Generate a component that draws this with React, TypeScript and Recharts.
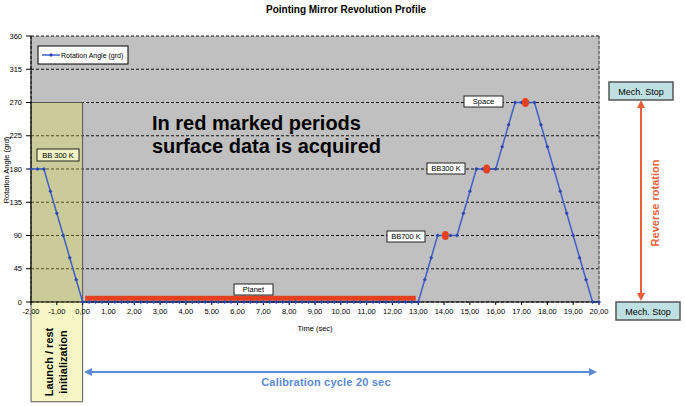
import React from "react";
import {
  ComposedChart,
  Line,
  Scatter,
  XAxis,
  YAxis,
  CartesianGrid,
  ReferenceArea,
  ReferenceLine,
} from "recharts";

// profile samples, every 0.25 s
const timeSec = [
  -2, -1.75, -1.5, -1.25, -1, -0.75, -0.5, -0.25, 0,
  0.25, 0.5, 0.75, 1, 1.25, 1.5, 1.75, 2, 2.25, 2.5, 2.75, 3,
  3.25, 3.5, 3.75, 4, 4.25, 4.5, 4.75, 5, 5.25, 5.5, 5.75, 6,
  6.25, 6.5, 6.75, 7, 7.25, 7.5, 7.75, 8, 8.25, 8.5, 8.75, 9,
  9.25, 9.5, 9.75, 10, 10.25, 10.5, 10.75, 11, 11.25, 11.5, 11.75, 12,
  12.25, 12.5, 12.75, 13,
  13.25, 13.5, 13.75, 14, 14.25, 14.5, 14.75, 15, 15.25, 15.5, 15.75, 16,
  16.25, 16.5, 16.75, 17, 17.25, 17.5, 17.75, 18, 18.25, 18.5, 18.75, 19,
  19.25, 19.5, 19.75, 20,
];
const angleGrd = [
  180, 180, 180, 150, 120, 90, 60, 30, 0,
  0, 0, 0, 0, 0, 0, 0, 0, 0, 0, 0, 0,
  0, 0, 0, 0, 0, 0, 0, 0, 0, 0, 0, 0,
  0, 0, 0, 0, 0, 0, 0, 0, 0, 0, 0, 0,
  0, 0, 0, 0, 0, 0, 0, 0, 0, 0, 0, 0,
  0, 0, 0, 0,
  30, 60, 90, 90, 90, 90, 120, 150, 180, 180, 180, 180,
  210, 240, 270, 270, 270, 270, 240, 210, 180, 150, 120, 90,
  60, 30, 0, 0,
];

// red marked acquisition periods
const planetTimes = [0.1, 12.9];
const planetAngle = [5, 5];
const dotTimes = [14.05, 15.65, 17.15];
const dotAngles = [90, 180, 270];

const xTicks = [-2, -1, 0, 1, 2, 3, 4, 5, 6, 7, 8, 9, 10, 11, 12, 13, 14, 15, 16, 17, 18, 19, 20];
const gridTimes = [
  -2, -1.5, -1, -0.5, 0, 0.5, 1, 1.5, 2, 2.5, 3, 3.5, 4, 4.5, 5, 5.5, 6, 6.5, 7, 7.5, 8, 8.5,
  9, 9.5, 10, 10.5, 11, 11.5, 12, 12.5, 13, 13.5, 14, 14.5, 15, 15.5, 16, 16.5, 17, 17.5, 18,
  18.5, 19, 19.5, 20,
];
const yTicks = [0, 45, 90, 135, 180, 225, 270, 315, 360];

const profile = timeSec.map((t, i) => ({ t, v: angleGrd[i] }));
const planetBand = planetTimes.map((t, i) => ({ t, v: planetAngle[i] }));
const acqDots = dotTimes.map((t, i) => ({ t, v: dotAngles[i] }));

const FONT = "'Liberation Sans', Arial, sans-serif";
const BLUE = "#3f5fc8";
const RED = "#e5401f";
const ORANGE = "#e8603a";
const SKY = "#5a8ad8";

const Diamond = (props: any) => {
  const { cx, cy } = props;
  if (cx == null || cy == null) return null;
  return <polygon points={`${cx},${cy - 2} ${cx + 2},${cy} ${cx},${cy + 2} ${cx - 2},${cy}`} fill="#2a48b0" />;
};

const RedDot = (props: any) => <ellipse cx={props.cx} cy={props.cy} rx={3.5} ry={4.5} fill={RED} />;

const LabelBox = ({ x, y, w, h, text, fill = "#fff" }: any) => (
  <g>
    <rect x={x} y={y} width={w} height={h} fill={fill} stroke="#222" strokeWidth={1} />
    <text x={x + w / 2} y={y + h / 2 + 2.7} textAnchor="middle" fontSize={7.5}>
      {text}
    </text>
  </g>
);

const App: React.FC = () => {
  return (
    <div style={{ position: "absolute", left: 0, top: 0, width: 685, height: 406, background: "#fff", fontFamily: FONT }}>
      <ComposedChart width={685} height={406} margin={{ top: 36, right: 86, bottom: 74, left: 11 }}>
        <XAxis xAxisId="grid" type="number" domain={[-2, 20]} ticks={gridTimes} hide />
        <CartesianGrid
          xAxisId="grid"
          fill="#c0c0c0"
          fillOpacity={1}
          stroke="#111"
          strokeDasharray="3 2"
        />
        <XAxis
          dataKey="t"
          type="number"
          domain={[-2, 20]}
          ticks={xTicks}
          tickFormatter={(v: number) => v.toFixed(2).replace(".", ",")}
          tick={{ fontSize: 7.5, fill: "#000", fontFamily: FONT }}
          tickSize={3}
          tickMargin={4}
          axisLine={{ stroke: "#000" }}
          tickLine={{ stroke: "#000" }}
          height={30}
        />
        <YAxis
          type="number"
          domain={[0, 360]}
          ticks={yTicks}
          tick={{ fontSize: 7.5, fill: "#000", fontFamily: FONT }}
          tickSize={5}
          tickMargin={4}
          axisLine={{ stroke: "#000" }}
          tickLine={{ stroke: "#000" }}
          width={20}
        />
        <ReferenceLine x={20} stroke="#8a8a8a" strokeWidth={1} />
        <ReferenceArea
          x1={-2}
          x2={0}
          y1={-135}
          y2={270}
          ifOverflow="visible"
          fill="#e6e640"
          fillOpacity={0.3}
          stroke="#555"
          strokeWidth={1}
        />
        <Line
          data={planetBand}
          dataKey="v"
          stroke={RED}
          strokeWidth={5}
          dot={false}
          isAnimationActive={false}
        />
        <Line
          data={profile}
          dataKey="v"
          type="linear"
          stroke={BLUE}
          strokeWidth={1.5}
          dot={<Diamond />}
          isAnimationActive={false}
        />
        <Scatter data={acqDots} dataKey="v" shape={<RedDot />} isAnimationActive={false} />
      </ComposedChart>

      <svg
        width={685}
        height={406}
        style={{ position: "absolute", left: 0, top: 0, pointerEvents: "none", fontFamily: FONT }}
      >
        <text x={346} y={13} textAnchor="middle" fontSize={10} fontWeight="bold">
          Pointing Mirror Revolution Profile
        </text>

        {/* legend */}
        <rect x={38} y={46} width={90} height={18} fill="#fff" stroke="#000" strokeWidth={1} />
        <line x1={42} y1={55} x2={60} y2={55} stroke={BLUE} strokeWidth={1.5} />
        <polygon points="51,53 53,55 51,57 49,55" fill="#2a48b0" />
        <text x={61} y={57.5} fontSize={7}>
          Rotation Angle (grd)
        </text>

        <text transform="translate(6,170) rotate(-90)" textAnchor="middle" dominantBaseline="central" fontSize={7.5}>
          Rotation Angle (grd)
        </text>
        <text x={315} y={331} textAnchor="middle" fontSize={7.5}>
          Time (sec)
        </text>

        <text x={152} y={130} fontSize={20} fontWeight="bold">
          In red marked periods
        </text>
        <text x={152} y={153} fontSize={20} fontWeight="bold">
          surface data is acquired
        </text>

        <LabelBox x={37} y={149} w={42} h={12} text="BB 300 K" fill="#f2f2c4" />
        <LabelBox x={234} y={284} w={39} h={11} text="Planet" />
        <LabelBox x={387} y={231} w={38} h={11} text="BB700 K" />
        <LabelBox x={427} y={163} w={38} h={11} text="BB300 K" />
        <LabelBox x={464} y={96} w={39} h={11} text="Space" />

        {/* launch / rest box text */}
        <text transform="translate(49,362) rotate(-90)" textAnchor="middle" dominantBaseline="central" fontSize={11} fontWeight="bold">
          Launch / rest
        </text>
        <text transform="translate(63,362) rotate(-90)" textAnchor="middle" dominantBaseline="central" fontSize={11} fontWeight="bold">
          initialization
        </text>

        {/* calibration cycle arrow */}
        <line x1={90} y1={372} x2={590} y2={372} stroke={SKY} strokeWidth={2} />
        <polygon points="84,372 92,368 92,376" fill={SKY} />
        <polygon points="597,372 589,368 589,376" fill={SKY} />
        <text x={326} y={386} textAnchor="middle" fontSize={11} fontWeight="bold" fill={SKY} letterSpacing={0.2}>
          Calibration cycle 20 sec
        </text>

        {/* mechanical stops */}
        <rect x={609} y={82} width={64} height={18} fill="#bfe0e2" stroke="#555" strokeWidth={1.5} />
        <text x={641} y={94.5} textAnchor="middle" fontSize={9}>
          Mech. Stop
        </text>
        <rect x={616} y={302} width={64} height={18} fill="#bfe0e2" stroke="#555" strokeWidth={1.5} />
        <text x={648} y={314.5} textAnchor="middle" fontSize={9}>
          Mech. Stop
        </text>
        <line x1={641} y1={106} x2={641} y2={295} stroke={ORANGE} strokeWidth={2} />
        <polygon points="641,100 637,108 645,108" fill={ORANGE} />
        <polygon points="641,301 637,293 645,293" fill={ORANGE} />
        <text transform="translate(655,203) rotate(-90)" textAnchor="middle" dominantBaseline="central" fontSize={11} fontWeight="bold" fill={ORANGE}>
          Reverse rotation
        </text>
      </svg>
    </div>
  );
};

export default App;
